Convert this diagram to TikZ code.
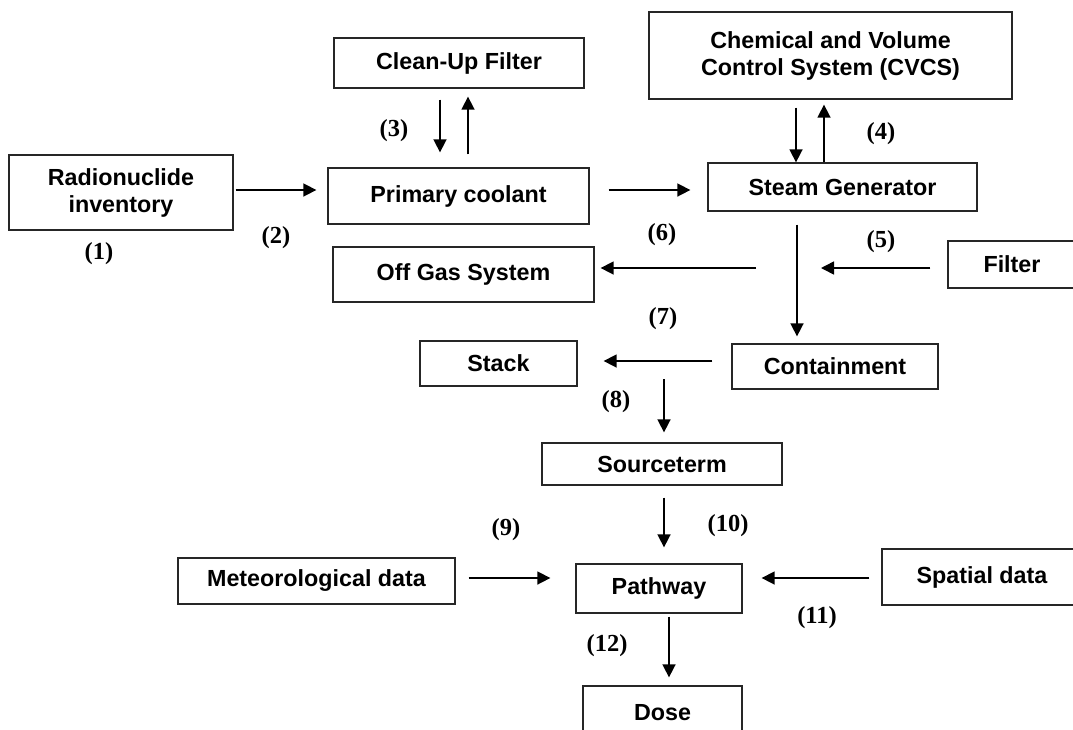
\documentclass[tikz,border=0pt]{standalone}
\usepackage{fontspec}
\setmainfont{Liberation Sans}
\newfontfamily\lblfont{Liberation Serif}
\usetikzlibrary{arrows.meta}
\begin{document}
\begin{tikzpicture}[x=1pt,y=-1pt,
  box/.style={draw=black!85, line width=1.3pt, inner sep=0pt, align=center,
    font=\fontsize{23.3}{27}\selectfont\bfseries},
  arr/.style={line width=1.6pt, -{Triangle[length=13pt,width=13pt]}},
  lbl/.style={inner sep=0pt, font=\lblfont\fontsize{24.5}{28}\selectfont\bfseries}]
\useasboundingbox (0,0) rectangle (1073,729);
\clip (0,0) rectangle (1073,729);
% boxes
\node[box, minimum width=224pt, minimum height=75pt] (rad) at (121,192.5) {Radionuclide\\inventory};
\node[box, minimum width=250pt, minimum height=50pt] (clean) at (459,63) {Clean-Up Filter};
\node[box, minimum width=261pt, minimum height=56pt] (prim) at (458.5,196) {Primary coolant};
\node[box, minimum width=261pt, minimum height=55pt] (off) at (463.5,274.5) {Off Gas System};
\node[box, minimum width=363pt, minimum height=87pt] (cvcs) at (830.5,55.5) {Chemical and Volume\\Control System (CVCS)};
\node[box, minimum width=269pt, minimum height=48pt] (sg) at (842.5,187) {Steam Generator};
\node[box, minimum width=128pt, minimum height=47pt] (filter) at (1012,264.5) {Filter};
\node[box, minimum width=157pt, minimum height=45pt] (stack) at (498.5,363.5) {Stack};
\node[box, minimum width=206pt, minimum height=45pt] (cont) at (835,366.5) {Containment};
\node[box, minimum width=240pt, minimum height=42pt] (src) at (662,464) {Sourceterm};
\node[box, minimum width=277pt, minimum height=46pt] (met) at (316.5,581) {Meteorological data};
\node[box, minimum width=166pt, minimum height=49pt] (path) at (659,588.5) {Pathway};
\node[box, minimum width=200pt, minimum height=56pt] (spat) at (982,577) {Spatial data};
\node[box, minimum width=159pt, minimum height=54pt] (dose) at (662.5,713) {Dose};
% junction points
\coordinate (j1) at (797,268);
\coordinate (j2) at (664,361);
% connectors
\draw[arr, shorten <=2pt, shorten >=11pt] ([yshift=2.5pt]rad.east) -- ([yshift=6pt]prim.west);
\draw[arr, shorten <=11pt, shorten >=15pt] ([xshift=-19pt]clean.south) -- ([xshift=-18.5pt]prim.north);
\draw[arr, shorten <=13pt, shorten >=8pt] ([xshift=9.5pt]prim.north) -- ([xshift=9pt]clean.south);
\draw[arr, shorten <=19pt, shorten >=17pt] ([yshift=6pt]prim.east) -- ([yshift=-3pt]sg.west);
\draw[arr, shorten <=8pt] ([xshift=-34.5pt]cvcs.south) -- ([xshift=-46.5pt]sg.north);
\draw[arr, shorten >=5pt] ([xshift=-18.5pt]sg.north) -- ([xshift=-6.5pt]cvcs.south);
\draw[arr, shorten <=13pt, shorten >=7pt] ([xshift=-45.5pt]sg.south) -- ([xshift=-38pt]cont.north);
\draw[arr, shorten <=41pt, shorten >=6pt] (j1) -- (off.east |- j1);
\draw[arr, shorten <=17pt, shorten >=24pt] (filter.west |- j1) -- (j1);
\draw[arr, shorten <=19pt, shorten >=26pt] (cont.west |- j2) -- (stack.east |- j2);
\draw[arr, shorten <=18pt, shorten >=10pt] (j2) -- (j2 |- src.north);
\draw[arr, shorten <=12pt, shorten >=16pt] ([xshift=2pt]src.south) -- ([xshift=5pt]path.north);
\draw[arr, shorten <=13pt, shorten >=25pt] ([yshift=3pt]met.east) -- ([yshift=10.5pt]path.west);
\draw[arr, shorten <=12pt, shorten >=19pt] ([yshift=-1pt]spat.west) -- ([yshift=10.5pt]path.east);
\draw[arr, shorten <=3pt, shorten >=8pt] ([xshift=10pt]path.south) -- ([xshift=6.5pt]dose.north);
% labels
\node[lbl] (l1) at (99,254) {(1)};
\node[lbl] (l2) at (276,238) {(2)};
\node[lbl] (l3) at (394,131) {(3)};
\node[lbl] (l4) at (881,134) {(4)};
\node[lbl] (l5) at (881,242) {(5)};
\node[lbl] (l6) at (662,235) {(6)};
\node[lbl] (l7) at (663,319) {(7)};
\node[lbl] (l8) at (616,402) {(8)};
\node[lbl] (l9) at (506,530) {(9)};
\node[lbl] (l10) at (728,526) {(10)};
\node[lbl] (l11) at (817,618) {(11)};
\node[lbl] (l12) at (607,646) {(12)};
\end{tikzpicture}
\end{document}
